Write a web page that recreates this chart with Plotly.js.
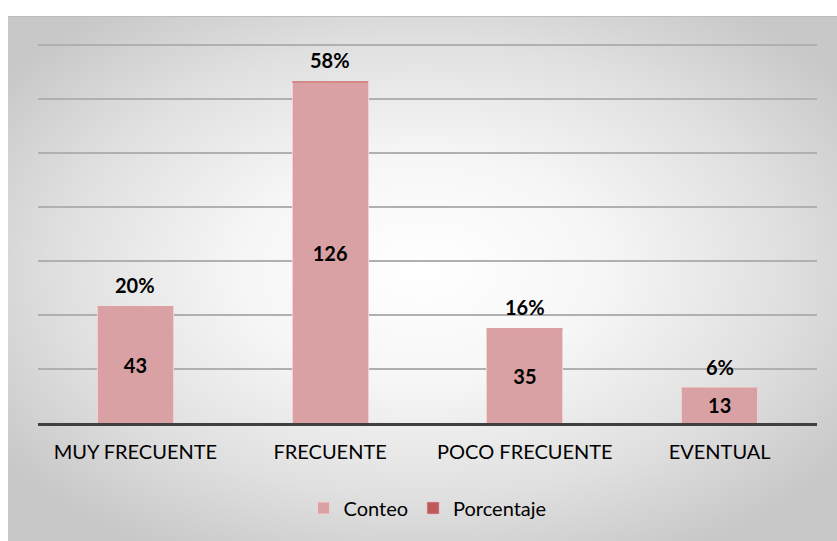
<!DOCTYPE html>
<html>
<head>
<meta charset="utf-8">
<script src="https://cdn.plot.ly/plotly-3.0.1.min.js"></script>
<style>
  html, body { margin: 0; padding: 0; background: #ffffff; width: 837px; height: 541px; overflow: hidden; }
  #bg { position: absolute; left: 8px; top: 16px; width: 829px; height: 525px;
        background: radial-gradient(ellipse 62% 62% at 50% 48%, #ffffff 0%, #f6f6f6 35%, #e0e0e0 70%, #c8c8c8 100%);
        border-top: 1px solid #bdbdbd; }
  #chart { position: absolute; left: 0; top: 0; width: 837px; height: 541px; }
</style>
</head>
<body>
<div id="bg"></div>
<div id="chart"></div>
<script>
const categories = ["MUY FRECUENTE", "FRECUENTE", "POCO FRECUENTE", "EVENTUAL"];
const conteo = [43, 126, 35, 13];
const porcentaje = [0.20, 0.58, 0.16, 0.06];

const FONT = "Lato, 'Open Sans', sans-serif";

const traces = [
  {
    type: "bar", name: "Conteo", x: categories, y: conteo,
    marker: { color: "#d9a1a3", line: { color: "#f2d0d0", width: 1 } },
    text: conteo.map(String), textposition: "inside", insidetextanchor: "middle",
    textangle: 0, constraintext: "none",
    textfont: { family: FONT, size: 20, color: "#000000", weight: "bold" },
    hoverinfo: "skip"
  },
  {
    type: "bar", name: "Porcentaje", x: categories, y: porcentaje,
    marker: { color: "#c0595c", line: { color: "#e8b8b8", width: 0.5 } },
    hoverinfo: "skip"
  }
];

const annotations = categories.map((c, i) => ({
  x: c, y: conteo[i] + porcentaje[i], xref: "x", yref: "y",
  text: Math.round(porcentaje[i] * 100) + "%",
  showarrow: false, yanchor: "middle", yshift: 21,
  font: { family: FONT, size: 20, color: "#000000", weight: "bold" }
}));

const layout = {
  width: 837, height: 541,
  margin: { l: 38, r: 20, t: 40, b: 118 },
  paper_bgcolor: "rgba(0,0,0,0)", plot_bgcolor: "rgba(0,0,0,0)",
  barmode: "stack", bargap: 0.61,
  showlegend: true,
  legend: { orientation: "h", x: 0.5, xanchor: "center", y: -0.222, yanchor: "middle",
            font: { family: FONT, size: 20, color: "#000000" }, itemwidth: 30, traceorder: "normal" },
  xaxis: {
    type: "category", showgrid: false, showline: true, linecolor: "#404040", linewidth: 3,
    ticks: "", ticklabelstandoff: 9,
    tickfont: { family: FONT, size: 20, color: "#000000" }
  },
  yaxis: {
    range: [0, 141.85], dtick: 20, tick0: 0, showticklabels: false, ticks: "",
    showgrid: true, gridcolor: "#b0b0b0", gridwidth: 1.5, zeroline: false, showline: false
  },
  annotations: annotations
};

Plotly.newPlot("chart", traces, layout, { displayModeBar: false, staticPlot: true });
</script>
</body>
</html>
